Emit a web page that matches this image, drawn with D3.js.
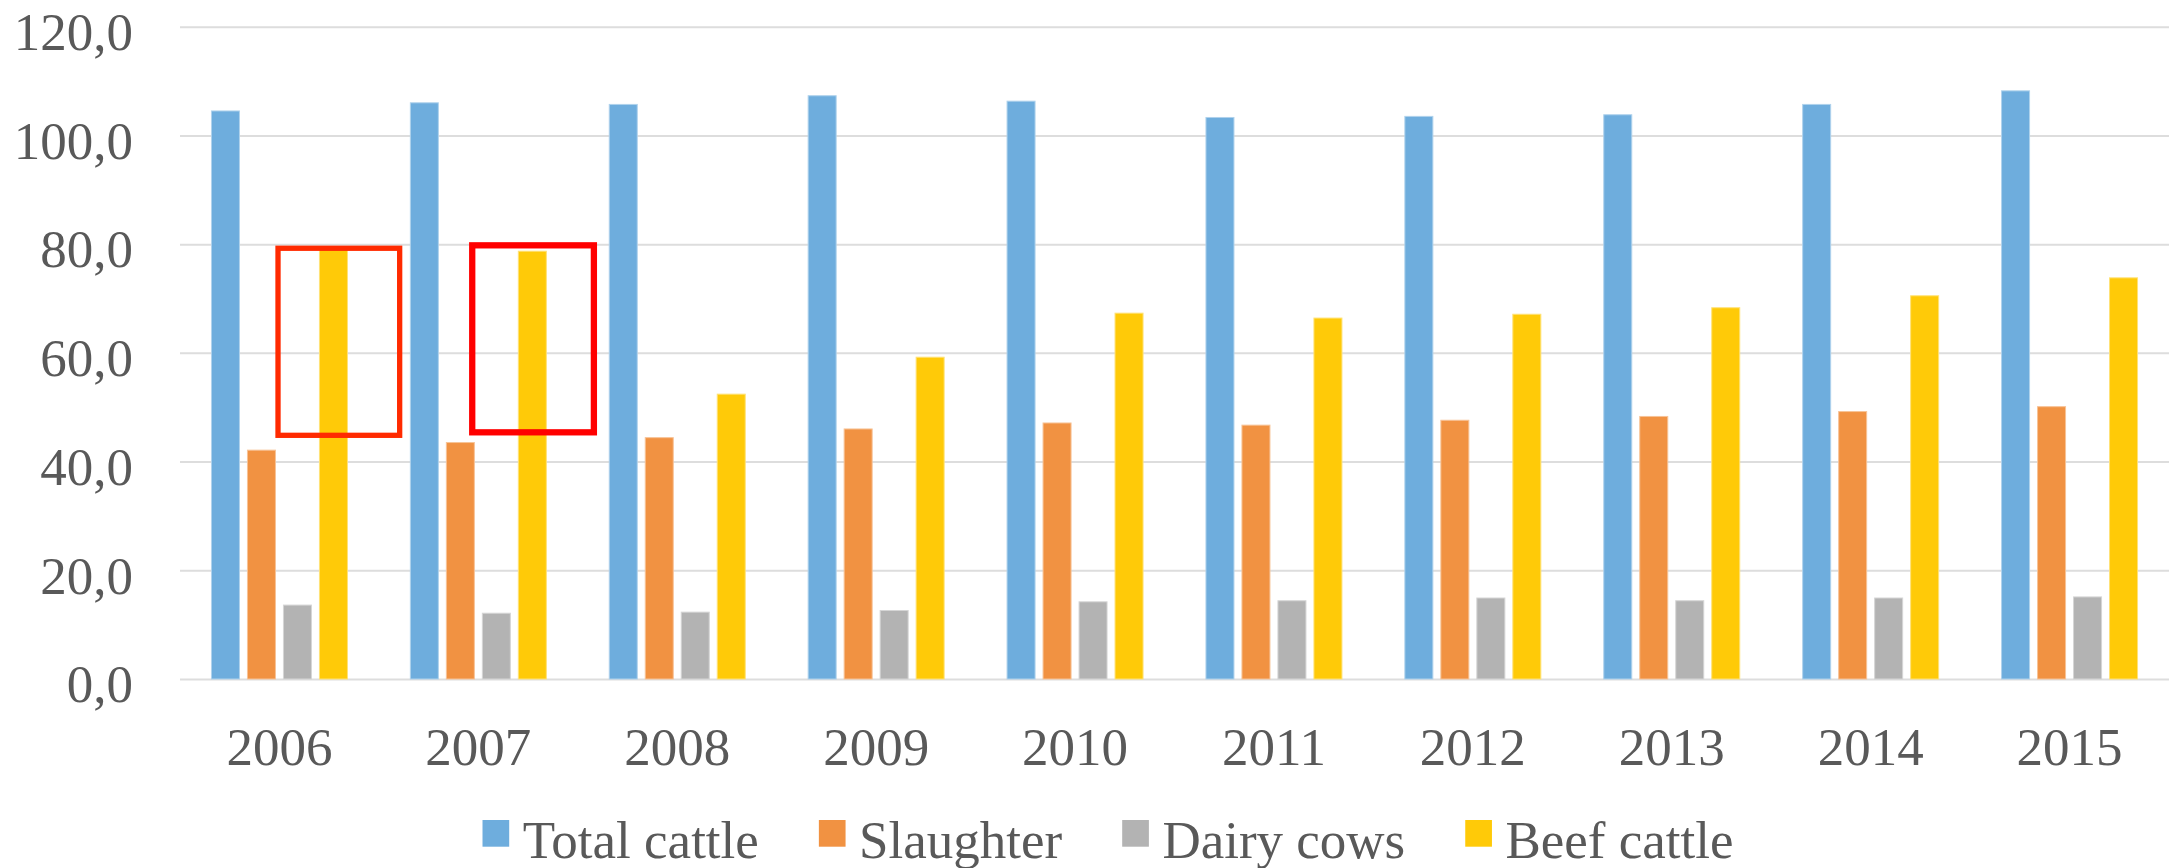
<!DOCTYPE html>
<html>
<head>
<meta charset="utf-8">
<script src="https://cdn.jsdelivr.net/npm/d3@7"></script>
<style>
  html, body { margin: 0; padding: 0; background: #ffffff; }
  svg { display: block; }
  text { font-family: "Liberation Serif", "Times New Roman", serif; fill: #595959; }
</style>
</head>
<body>
<svg id="chart" width="2176" height="868"></svg>
<script>
// Cattle numbers by year, four series
const years = ["2006", "2007", "2008", "2009", "2010", "2011", "2012", "2013", "2014", "2015"];
const seriesNames = ["Total cattle", "Slaughter", "Dairy cows", "Beef cattle"];
const seriesColors = ["#6EADDD", "#F19242", "#B3B3B3", "#FFCA08"];
const totalCattle = [104.5, 106.0, 105.7, 107.3, 106.3, 103.3, 103.5, 103.8, 105.7, 108.2];
const slaughter   = [42.1, 43.5, 44.4, 46.0, 47.1, 46.7, 47.6, 48.3, 49.2, 50.1];
const dairyCows   = [13.6, 12.1, 12.3, 12.6, 14.2, 14.4, 14.9, 14.4, 14.9, 15.1];
const beefCattle  = [79.3, 78.7, 52.4, 59.2, 67.3, 66.4, 67.1, 68.3, 70.5, 73.8];
const yTickValues = [0, 20, 40, 60, 80, 100, 120];

// Highlight boxes around the beef cattle bars of 2006 and 2007
const highlightYears  = ["2006", "2007"];
const highlightTop    = [79.24, 79.78];
const highlightBottom = [44.83, 45.38];

const seriesValues = [totalCattle, slaughter, dairyCows, beefCattle];

const W = 2176, H = 868;
const margin = { top: 26.7, right: 7, bottom: 189, left: 180 };
const plotW = W - margin.left - margin.right;
const plotH = H - margin.top - margin.bottom;

const svg = d3.select("#chart");
const g = svg.append("g").attr("transform", `translate(${margin.left},${margin.top})`);

const x0 = d3.scaleBand().domain(years).range([0, plotW]).paddingInner(0).paddingOuter(0);
const x1 = d3.scaleBand().domain(seriesNames).range([0, x0.bandwidth()])
  .paddingInner(0.222).paddingOuter(0.874);
const y = d3.scaleLinear().domain([0, 120]).range([plotH, 0]);

const locale = d3.formatLocale({ decimal: ",", thousands: " ", grouping: [3], currency: ["", ""] });
const fmt = locale.format(".1f");

// Gridlines
const grid = g.append("g").attr("class", "grid")
  .call(d3.axisLeft(y).tickValues(yTickValues).tickSize(-plotW).tickFormat(""));
grid.select(".domain").remove();
grid.selectAll("line").attr("stroke", "#DDDDDD").attr("stroke-width", 2);

// Y axis labels
const yAxis = g.append("g")
  .call(d3.axisLeft(y).tickValues(yTickValues).tickSize(0).tickPadding(47).tickFormat(fmt));
yAxis.select(".domain").remove();
yAxis.selectAll("text").attr("font-size", 53).attr("dy", "0.43em").attr("fill", "#595959");

// X axis labels
const xAxis = g.append("g").attr("transform", `translate(0,${plotH})`)
  .call(d3.axisBottom(x0).tickSize(0));
xAxis.select(".domain").remove();
xAxis.selectAll("text").attr("font-size", 53).attr("dy", null).attr("y", 86).attr("fill", "#595959");

// Bars
const rows = years.map((yr, i) => ({
  year: yr,
  values: seriesNames.map((s, k) => ({ series: s, value: seriesValues[k][i], color: seriesColors[k] }))
}));

const groups = g.append("g").selectAll("g").data(rows).join("g")
  .attr("transform", d => `translate(${x0(d.year)},0)`);

groups.selectAll("rect").data(d => d.values).join("rect")
  .attr("x", d => x1(d.series))
  .attr("y", d => y(d.value))
  .attr("width", x1.bandwidth())
  .attr("height", d => y(0) - y(d.value))
  .attr("fill", d => d.color)
  .attr("stroke", d => d3.interpolateRgb(d.color, "#ffffff")(0.45))
  .attr("stroke-width", 1);

// Highlight boxes
const boxColors = ["#FF2A00", "#FF0000"];
const boxStroke = [5.3, 6.3];
const boxLeft = [-1.54, -1.67];
const boxRight = [1.84, 1.71];
highlightYears.forEach((yr, i) => {
  const cx = x0(yr) + x1("Beef cattle") + x1.bandwidth() / 2;
  const step = x1.step();
  g.append("rect")
    .attr("x", cx + boxLeft[i] * step)
    .attr("y", y(highlightTop[i]))
    .attr("width", (boxRight[i] - boxLeft[i]) * step)
    .attr("height", y(highlightBottom[i]) - y(highlightTop[i]))
    .attr("fill", "none")
    .attr("stroke", boxColors[i])
    .attr("stroke-width", boxStroke[i]);
});

// Legend
const legend = svg.append("g");
const sq = 26.7, textGap = 13.5, itemGap = 60;
const items = legend.selectAll("g").data(seriesNames).join("g");
items.append("rect")
  .attr("width", sq).attr("height", sq)
  .attr("y", 820)
  .attr("fill", (d, i) => seriesColors[i]);
items.append("text")
  .attr("x", sq + textGap)
  .attr("y", 858.3)
  .attr("font-size", 53)
  .text(d => d);
let offs = 0;
const widths = [];
items.each(function () {
  const tw = d3.select(this).select("text").node().getComputedTextLength();
  widths.push(sq + textGap + tw);
});
const total = d3.sum(widths) + itemGap * (widths.length - 1);
let start = 1108 - total / 2;
items.attr("transform", (d, i) => {
  const tx = start;
  start += widths[i] + itemGap;
  return `translate(${tx},0)`;
});
</script>
</body>
</html>
